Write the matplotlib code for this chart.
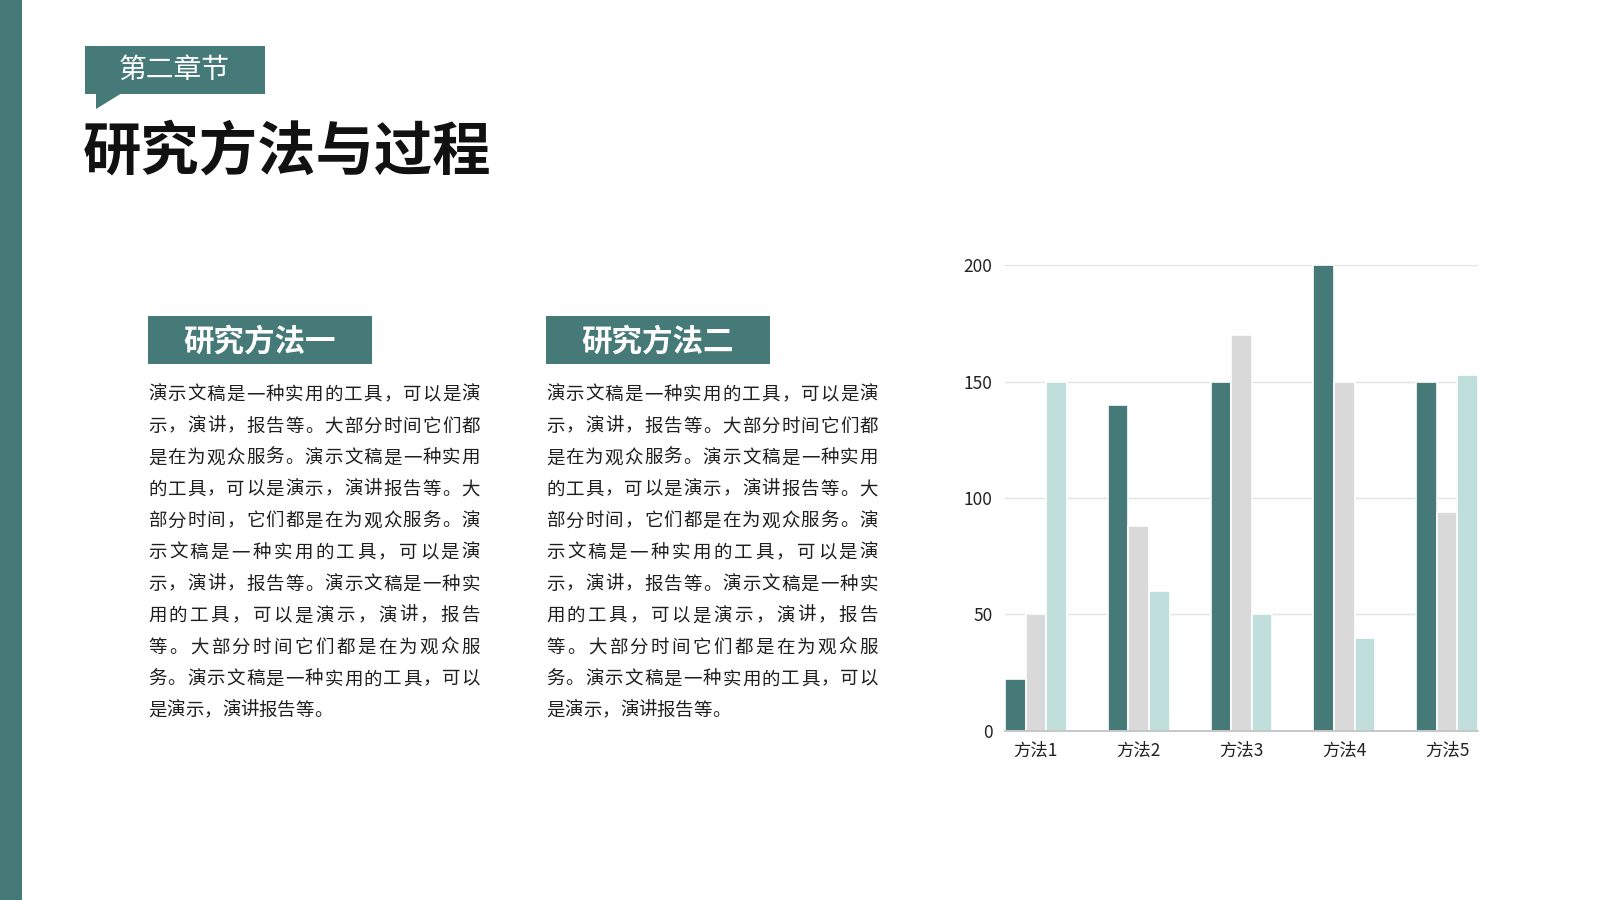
import matplotlib.pyplot as plt
from matplotlib.patches import Rectangle, Polygon
import numpy as np

TEAL = "#467a78"
GRAY = "#d9d9d9"
LIGHT = "#c0dfdc"
TEXT_DARK = "#1f1f1f"

W, H = 1600, 900

plt.rcParams["font.family"] = ["Noto Sans CJK SC", "DejaVu Sans"]

chapter_label = "第二章节"
page_title = "研究方法与过程"
section_titles = ["研究方法一", "研究方法二"]
body_lines = [
    "演示文稿是一种实用的工具，可以是演",
    "示，演讲，报告等。大部分时间它们都",
    "是在为观众服务。演示文稿是一种实用",
    "的工具，可以是演示，演讲报告等。大",
    "部分时间，它们都是在为观众服务。演",
    "示文稿是一种实用的工具，可以是演",
    "示，演讲，报告等。演示文稿是一种实",
    "用的工具，可以是演示，演讲，报告",
    "等。大部分时间它们都是在为观众服",
    "务。演示文稿是一种实用的工具，可以",
    "是演示，演讲报告等。",
]

categories = ["方法1", "方法2", "方法3", "方法4", "方法5"]
series_a = [22, 140, 150, 200, 150]
series_b = [50, 88, 170, 150, 94]
series_c = [150, 60, 50, 40, 153]
y_ticks = [0, 50, 100, 150, 200]


def fx(px):
    return px / W


def fy(py):
    return 1 - py / H


def add_rect(fig, x0, y0, x1, y1, color):
    fig.patches.append(Rectangle((fx(x0), fy(y1)), fx(x1) - fx(x0), fy(y0) - fy(y1),
                                 transform=fig.transFigure, facecolor=color,
                                 edgecolor="none", zorder=1))


def justified_line(fig, text, left, right, y, size, justify=True):
    n = len(text)
    em = size / 0.72
    if justify and n > 1:
        step = (right - left - em) / (n - 1)
    else:
        step = em
    for i, ch in enumerate(text):
        cx = left + em / 2 + i * step
        fig.text(fx(cx), fy(y), ch, ha="center", va="center", fontsize=size,
                 color=TEXT_DARK)


fig = plt.figure(figsize=(16, 9), dpi=100)
fig.patch.set_facecolor("white")

# left accent strip
add_rect(fig, 0, 0, 22, 900, TEAL)

# chapter tag with speech-bubble tail
add_rect(fig, 85, 46, 265, 94, TEAL)
fig.patches.append(Polygon([(fx(96), fy(93)), (fx(96), fy(109)), (fx(122), fy(93))],
                           closed=True, transform=fig.transFigure,
                           facecolor=TEAL, edgecolor="none", zorder=1))
fig.text(fx(119), fy(70), chapter_label, ha="left", va="center",
         fontsize=20, color="white")

fig.text(fx(83), fy(153), page_title, ha="left", va="center",
         fontsize=42, fontweight="heavy", color="#111111")

# two text columns
columns = [(148, 480), (546, 878)]
for (left, right), title in zip(columns, section_titles):
    add_rect(fig, left, 316, left + 224, 364, TEAL)
    fig.text(fx(left + 35), fy(342), title, ha="left", va="center",
             fontsize=22, fontweight="bold", color="white")
    for k, line in enumerate(body_lines):
        justified_line(fig, line, left, right, 395 + k * 31.6, 13.3,
                       justify=k < len(body_lines) - 1)

# grouped bar chart
ax = fig.add_axes([fx(1005), fy(730.6), fx(1478) - fx(1005), fy(265.3) - fy(730.6)])
x = np.arange(len(categories))
bw = 0.2
for offset, vals, col in [(-bw, series_a, TEAL), (0, series_b, GRAY), (bw, series_c, LIGHT)]:
    ax.bar(x + offset, vals, width=bw, color=col, edgecolor="white",
           linewidth=1.2, zorder=3)

ax.set_xlim(-0.3, len(categories) - 0.7)
ax.set_ylim(0, 200)
ax.set_yticks(y_ticks)
ax.set_xticks(x)
ax.set_xticklabels(categories)
ax.tick_params(axis="both", length=0, labelsize=12.5, colors="#222222")
ax.tick_params(axis="y", pad=9)
ax.tick_params(axis="x", pad=8)
ax.grid(axis="y", color="#e2e2e2", linewidth=1, zorder=0)
for side in ["top", "right", "left"]:
    ax.spines[side].set_visible(False)
ax.spines["bottom"].set_color("#bdbdbd")
ax.spines["bottom"].set_linewidth(1.2)
ax.spines["bottom"].set_zorder(4)
ax.set_facecolor("none")

fig.savefig("out.png", dpi=100)
